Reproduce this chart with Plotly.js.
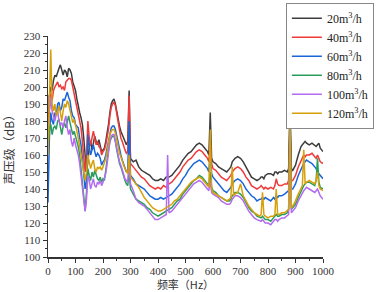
<!DOCTYPE html>
<html>
<head>
<meta charset="utf-8">
<script src="https://cdn.plot.ly/plotly-3.0.1.min.js"></script>
<style>html,body{margin:0;padding:0;background:#fff;}#chart{width:378px;height:292px;}</style>
</head>
<body>
<div id="chart"></div>
<script>
var freq = [
  0,5,10,15,20,25,30,35,40,45,
  50,55,60,65,70,75,80,85,90,95,
  100,105,110,115,120,125,130,135,140,145,
  150,155,160,165,170,175,180,185,190,195,
  200,205,210,215,220,225,230,235,240,245,
  250,255,260,265,270,275,280,285,290,295,
  300,
  310,320,330,340,350,360,370,380,390,400,
  410,420,430,435,440,450,460,470,480,490,
  500,510,520,530,540,550,560,570,580,585,
  590,595,600,610,620,630,640,650,660,665,
  670,675,680,690,700,710,720,730,740,750,
  760,770,775,780,785,790,800,810,820,825,
  830,835,840,850,860,870,875,880,885,890,
  900,910,920,925,930,935,940,950,960,970,
  975,980,985,990,1000
];
var s20 = [
  182,195,200,198,204,207,206,209,211,213,
  209,207,210,209,206,211,210,208,203,200,
  198,193,188,185,182,178,170,160,150,156,
  165,168,163,167,171,168,166,169,165,162,
  163,164,168,172,178,185,190,192,193,190,
  185,180,177,174,172,169,167,166,168,198,
  158,
  156,157,153,151,150,149,148,146,145,145,
  146,145,147,147,147,148,150,152,154,157,
  159,161,162,164,166,167,166,164,162,160,
  185,158,156,155,153,152,151,150,152,153,
  156,157,158,159,158,156,153,150,147,146,
  145,146,147,147,146,148,149,149,148,150,
  150,149,150,150,151,150,152,189,152,151,
  154,160,165,166,167,168,167,166,167,166,
  165,166,167,164,162
];
var s40 = [
  178,190,196,192,198,200,202,203,200,201,
  199,200,198,203,204,205,205,204,200,196,
  194,189,184,181,176,168,158,150,160,180,
  170,166,170,174,170,166,168,165,164,160,
  162,163,166,170,175,183,188,190,191,189,
  184,178,174,170,168,165,163,161,162,195,
  155,
  153,151,149,147,146,144,142,141,140,141,
  140,142,141,142,143,144,146,148,150,153,
  155,157,158,160,162,163,162,160,158,156,
  168,155,152,151,149,147,146,145,147,148,
  150,151,152,153,152,150,147,145,142,141,
  140,141,142,141,140,141,140,141,140,142,
  146,143,142,142,143,143,145,178,145,145,
  148,153,157,158,160,159,160,160,161,159,
  158,160,158,156,155
];
var s60 = [
  132,170,185,180,178,185,183,190,191,186,
  188,193,192,195,197,194,192,186,183,182,
  178,177,176,170,166,158,148,140,145,172,
  165,160,163,166,162,159,161,160,158,154,
  156,157,160,164,169,174,176,177,177,175,
  171,166,162,160,157,155,152,150,151,180,
  148,
  146,143,142,141,140,138,136,135,134,134,
  135,134,135,135,136,137,139,141,143,146,
  148,151,153,155,156,157,156,154,152,150,
  162,149,147,145,143,141,139,138,140,141,
  143,144,145,146,145,143,140,138,136,135,
  133,134,134,135,134,135,134,133,135,134,
  136,135,136,136,137,138,139,185,140,140,
  143,148,152,154,155,156,157,156,155,153,
  152,150,149,148,146
];
var s80 = [
  165,175,178,172,176,177,175,180,181,176,
  172,177,179,176,180,183,179,176,172,174,
  170,168,165,160,152,142,134,127,138,152,
  148,145,150,147,151,148,146,145,147,144,
  146,145,150,157,163,168,170,171,171,168,
  163,158,155,153,150,148,145,143,142,150,
  140,
  137,134,133,132,131,129,128,126,125,124,
  125,126,127,128,128,129,131,133,134,137,
  139,141,143,145,146,148,147,145,143,142,
  150,141,139,138,136,135,134,133,133,134,
  136,137,138,138,137,135,132,129,127,126,
  124,123,123,124,123,122,122,121,123,124,
  125,124,124,125,125,126,128,170,128,129,
  131,135,139,141,142,143,144,144,143,142,
  145,158,144,141,140
];
var s100 = [
  195,185,194,186,183,180,184,186,180,178,
  179,176,180,183,176,172,175,168,165,170,
  166,163,160,155,148,140,133,127,134,148,
  145,140,143,146,142,141,144,143,145,142,
  144,146,149,155,162,168,171,172,172,168,
  163,158,156,154,151,149,146,145,144,158,
  143,
  139,134,132,131,130,128,126,124,122,122,
  123,124,125,160,126,127,129,131,133,135,
  137,139,141,143,144,145,144,142,140,139,
  145,138,137,136,135,133,132,131,131,132,
  134,135,136,136,135,133,130,127,125,123,
  122,121,121,122,121,120,120,119,121,122,
  122,121,122,123,123,124,125,172,126,127,
  129,133,136,138,139,140,141,140,139,138,
  139,140,138,136,134
];
var s120 = [
  160,190,222,190,186,190,183,185,189,185,
  180,186,190,188,192,190,186,183,179,181,
  178,174,170,165,160,155,148,145,150,160,
  156,152,155,157,152,150,153,152,153,151,
  153,155,158,162,167,172,174,175,175,173,
  169,164,161,159,156,154,152,150,149,160,
  147,
  145,143,141,138,135,133,131,129,128,127,
  127,128,129,130,130,131,133,134,136,138,
  140,142,144,145,146,147,146,144,142,141,
  175,140,138,137,136,135,134,133,134,135,
  153,136,137,138,143,136,133,130,128,126,
  125,124,125,138,125,124,123,124,124,125,
  140,125,125,126,126,127,128,178,129,130,
  133,137,140,142,163,143,144,145,144,143,
  145,150,142,140,139
];
var seriesNames = ['20m<sup>3</sup>/h','40m<sup>3</sup>/h','60m<sup>3</sup>/h','80m<sup>3</sup>/h','100m<sup>3</sup>/h','120m<sup>3</sup>/h'];
var seriesValues = [s20, s40, s60, s80, s100, s120];
var colors = ['#3c3c3c','#f03a3a','#1a66d9','#2a9d5c','#b36bf0','#d6a00a'];

var traces = seriesValues.map(function(v, i){
  return {x: freq, y: v, type: 'scatter', mode: 'lines', name: seriesNames[i],
          line: {color: colors[i], width: 1.5}};
});

var tickFont = {family: 'Liberation Serif, serif', size: 11, color: '#333'};
var layout = {
  width: 378, height: 292,
  margin: {l: 48, r: 55, t: 36, b: 35, autoexpand: false},
  paper_bgcolor: '#fff', plot_bgcolor: '#fff',
  showlegend: true,
  legend: {x: 1.185, y: 1.15, xanchor: 'right', yanchor: 'top',
           bordercolor: '#888', borderwidth: 1, bgcolor: '#fff',
           font: {family: 'Liberation Serif, serif', size: 12, color: '#222'},
           itemwidth: 30, tracegroupgap: 0},
  xaxis: {range: [0, 1000], dtick: 100, tick0: 0, showgrid: false, zeroline: false,
          automargin: false,
          showline: true, linecolor: '#333', linewidth: 1.5,
          ticks: 'outside', ticklen: 4, tickwidth: 1, tickcolor: '#333',
          ticklabelstandoff: -1,
          minor: {dtick: 50, ticks: 'outside', ticklen: 2, tickcolor: '#333', showgrid: false},
          tickfont: tickFont,
          title: {text: '频率（Hz）', font: {family: 'Noto Sans CJK SC, sans-serif', size: 11, color: '#333'}}},
  yaxis: {range: [100, 230], dtick: 10, tick0: 100, showgrid: false, zeroline: false,
          automargin: false,
          showline: true, linecolor: '#333', linewidth: 1.5,
          ticks: 'outside', ticklen: 4, tickwidth: 1, tickcolor: '#333',
          minor: {dtick: 5, ticks: 'outside', ticklen: 2, tickcolor: '#333', showgrid: false},
          tickfont: tickFont,
          title: {text: '声压级（dB）', font: {family: 'Noto Sans CJK SC, sans-serif', size: 12, color: '#333'}, standoff: 6}}
};
Plotly.newPlot('chart', traces, layout, {displayModeBar: false, staticPlot: true});
</script>
</body>
</html>
